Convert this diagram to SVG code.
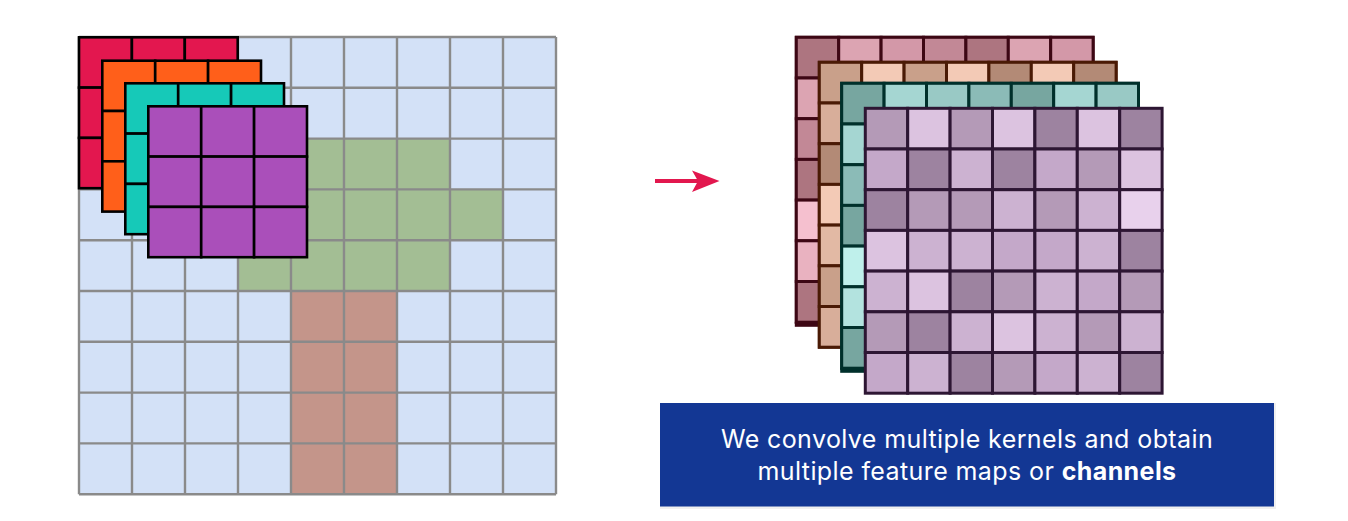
<svg xmlns="http://www.w3.org/2000/svg" width="1348" height="521" viewBox="0 0 1348 521">
<style>
.k rect{stroke:#000;stroke-width:2.6}
.kr rect{fill:#e3174f}.ko rect{fill:#ff5f1a}.kt rect{fill:#16c9b8}.kp rect{fill:#aa4fba}
.m rect{stroke-width:3}
.m1 rect{stroke:#3d0714}.m2 rect{stroke:#4a1a05}.m3 rect{stroke:#00302b}.m4 rect{stroke:#2d1633}
.A{fill:#9d83a0}.B{fill:#b49ab7}.C{fill:#c4a8c9}.D{fill:#ccb2d1}.E{fill:#dcc3e0}.F{fill:#e8d1ec}
.lbl{font-family:Inter,"Open Sans",sans-serif;font-size:25px;letter-spacing:0.4px;fill:#ffffff;text-anchor:middle}
</style>
<rect width="1348" height="521" fill="#ffffff"/>

<g id="input-grid">
<rect x="79" y="37" width="477" height="457.2" fill="#d3e1f7"/>
<path d="M238 138.6H450V189.4H503V240.2H450V291H238Z" fill="#a3be94"/>
<rect x="291" y="291" width="106" height="203.2" fill="#c4958a"/>
<path d="M79 37V494.2M132 37V494.2M185 37V494.2M238 37V494.2M291 37V494.2M344 37V494.2M397 37V494.2M450 37V494.2M503 37V494.2M556 37V494.2M79 37H556M79 87.8H556M79 138.6H556M79 189.4H556M79 240.2H556M79 291H556M79 341.8H556M79 392.6H556M79 443.4H556M79 494.2H556" stroke="#8a8a8a" stroke-width="2.4" fill="none"/>
</g>

<g id="kernel-red" class="k kr" transform="translate(79,37.3)">
<rect x="0" y="0" width="52.9" height="50.3"/><rect x="52.9" y="0" width="52.9" height="50.3"/><rect x="105.8" y="0" width="52.9" height="50.3"/>
<rect x="0" y="50.3" width="52.9" height="50.3"/><rect x="52.9" y="50.3" width="52.9" height="50.3"/><rect x="105.8" y="50.3" width="52.9" height="50.3"/>
<rect x="0" y="100.6" width="52.9" height="50.3"/><rect x="52.9" y="100.6" width="52.9" height="50.3"/><rect x="105.8" y="100.6" width="52.9" height="50.3"/>
</g>
<g id="kernel-orange" class="k ko" transform="translate(102.3,60.7)">
<rect x="0" y="0" width="52.9" height="50.3"/><rect x="52.9" y="0" width="52.9" height="50.3"/><rect x="105.8" y="0" width="52.9" height="50.3"/>
<rect x="0" y="50.3" width="52.9" height="50.3"/><rect x="52.9" y="50.3" width="52.9" height="50.3"/><rect x="105.8" y="50.3" width="52.9" height="50.3"/>
<rect x="0" y="100.6" width="52.9" height="50.3"/><rect x="52.9" y="100.6" width="52.9" height="50.3"/><rect x="105.8" y="100.6" width="52.9" height="50.3"/>
</g>
<g id="kernel-teal" class="k kt" transform="translate(125.3,83.3)">
<rect x="0" y="0" width="52.9" height="50.3"/><rect x="52.9" y="0" width="52.9" height="50.3"/><rect x="105.8" y="0" width="52.9" height="50.3"/>
<rect x="0" y="50.3" width="52.9" height="50.3"/><rect x="52.9" y="50.3" width="52.9" height="50.3"/><rect x="105.8" y="50.3" width="52.9" height="50.3"/>
<rect x="0" y="100.6" width="52.9" height="50.3"/><rect x="52.9" y="100.6" width="52.9" height="50.3"/><rect x="105.8" y="100.6" width="52.9" height="50.3"/>
</g>
<g id="kernel-purple" class="k kp" transform="translate(148.3,106.3)">
<rect x="0" y="0" width="52.9" height="50.3"/><rect x="52.9" y="0" width="52.9" height="50.3"/><rect x="105.8" y="0" width="52.9" height="50.3"/>
<rect x="0" y="50.3" width="52.9" height="50.3"/><rect x="52.9" y="50.3" width="52.9" height="50.3"/><rect x="105.8" y="50.3" width="52.9" height="50.3"/>
<rect x="0" y="100.6" width="52.9" height="50.3"/><rect x="52.9" y="100.6" width="52.9" height="50.3"/><rect x="105.8" y="100.6" width="52.9" height="50.3"/>
</g>

<g id="connectors">
<path d="M655 181H700" stroke="#e2174e" stroke-width="4" fill="none"/>
<polygon points="692,170.5 719.5,181 692,192 698,181" fill="#e2174e"/>
</g>

<g id="map-1" class="m m1" transform="translate(796.3,37.3)">
<rect x="0" y="0" width="296.8" height="284.9" fill="#c28896"/>
<rect x="0" y="286" width="23" height="2" fill="#f5c0cf" stroke="none"/>
<rect x="0" y="0" width="42.4" height="40.7" fill="#ad7580"/><rect x="42.4" y="0" width="42.4" height="40.7" fill="#dca4b2"/><rect x="84.8" y="0" width="42.4" height="40.7" fill="#d398a8"/><rect x="127.2" y="0" width="42.4" height="40.7" fill="#c28896"/><rect x="169.6" y="0" width="42.4" height="40.7" fill="#ad7580"/><rect x="212" y="0" width="42.4" height="40.7" fill="#dca4b2"/><rect x="254.4" y="0" width="42.4" height="40.7" fill="#d398a8"/>
<rect x="0" y="40.7" width="42.4" height="40.7" fill="#dca4b2"/><rect x="0" y="81.4" width="42.4" height="40.7" fill="#c28896"/><rect x="0" y="122.1" width="42.4" height="40.7" fill="#ad7580"/><rect x="0" y="162.8" width="42.4" height="40.7" fill="#f5c0cf"/><rect x="0" y="203.5" width="42.4" height="40.7" fill="#e9b2c0"/><rect x="0" y="244.2" width="42.4" height="40.7" fill="#ad7580"/>
</g>

<g id="map-2" class="m m2" transform="translate(819.3,62.3)">
<rect x="0" y="0" width="296.8" height="284.9" fill="#c9a08a"/>
<rect x="0" y="0" width="42.4" height="40.7" fill="#c9a08a"/><rect x="42.4" y="0" width="42.4" height="40.7" fill="#f3cab6"/><rect x="84.8" y="0" width="42.4" height="40.7" fill="#c9a08a"/><rect x="127.2" y="0" width="42.4" height="40.7" fill="#f3cab6"/><rect x="169.6" y="0" width="42.4" height="40.7" fill="#b38a76"/><rect x="212" y="0" width="42.4" height="40.7" fill="#f3cab6"/><rect x="254.4" y="0" width="42.4" height="40.7" fill="#b38a76"/>
<rect x="0" y="40.7" width="42.4" height="40.7" fill="#d8ae9a"/><rect x="0" y="81.4" width="42.4" height="40.7" fill="#b38a76"/><rect x="0" y="122.1" width="42.4" height="40.7" fill="#f3cab6"/><rect x="0" y="162.8" width="42.4" height="40.7" fill="#e2b9a4"/><rect x="0" y="203.5" width="42.4" height="40.7" fill="#c9a08a"/><rect x="0" y="244.2" width="42.4" height="40.7" fill="#d8ae9a"/>
</g>

<g id="map-3" class="m m3" transform="translate(841.7,83.3)">
<rect x="0" y="0" width="296.8" height="284.9" fill="#8bbbb7"/>
<rect x="0" y="286" width="23" height="2" fill="#bff0eb" stroke="none"/>
<rect x="0" y="0" width="42.4" height="40.7" fill="#77a6a0"/><rect x="42.4" y="0" width="42.4" height="40.7" fill="#a5d6d2"/><rect x="84.8" y="0" width="42.4" height="40.7" fill="#99c9c5"/><rect x="127.2" y="0" width="42.4" height="40.7" fill="#8bbbb7"/><rect x="169.6" y="0" width="42.4" height="40.7" fill="#77a6a0"/><rect x="212" y="0" width="42.4" height="40.7" fill="#a5d6d2"/><rect x="254.4" y="0" width="42.4" height="40.7" fill="#99c9c5"/>
<rect x="0" y="40.7" width="42.4" height="40.7" fill="#a5d6d2"/><rect x="0" y="81.4" width="42.4" height="40.7" fill="#8bbbb7"/><rect x="0" y="122.1" width="42.4" height="40.7" fill="#77a6a0"/><rect x="0" y="162.8" width="42.4" height="40.7" fill="#bff0eb"/><rect x="0" y="203.5" width="42.4" height="40.7" fill="#b3e3df"/><rect x="0" y="244.2" width="42.4" height="40.7" fill="#77a6a0"/>
</g>

<g id="map-4" class="m m4" transform="translate(865.3,108.3)">
<rect class="B" x="0" y="0" width="42.4" height="40.7"/><rect class="E" x="42.4" y="0" width="42.4" height="40.7"/><rect class="B" x="84.8" y="0" width="42.4" height="40.7"/><rect class="E" x="127.2" y="0" width="42.4" height="40.7"/><rect class="A" x="169.6" y="0" width="42.4" height="40.7"/><rect class="E" x="212" y="0" width="42.4" height="40.7"/><rect class="A" x="254.4" y="0" width="42.4" height="40.7"/>
<rect class="C" x="0" y="40.7" width="42.4" height="40.7"/><rect class="A" x="42.4" y="40.7" width="42.4" height="40.7"/><rect class="D" x="84.8" y="40.7" width="42.4" height="40.7"/><rect class="A" x="127.2" y="40.7" width="42.4" height="40.7"/><rect class="C" x="169.6" y="40.7" width="42.4" height="40.7"/><rect class="B" x="212" y="40.7" width="42.4" height="40.7"/><rect class="E" x="254.4" y="40.7" width="42.4" height="40.7"/>
<rect class="A" x="0" y="81.4" width="42.4" height="40.7"/><rect class="B" x="42.4" y="81.4" width="42.4" height="40.7"/><rect class="B" x="84.8" y="81.4" width="42.4" height="40.7"/><rect class="D" x="127.2" y="81.4" width="42.4" height="40.7"/><rect class="B" x="169.6" y="81.4" width="42.4" height="40.7"/><rect class="D" x="212" y="81.4" width="42.4" height="40.7"/><rect class="F" x="254.4" y="81.4" width="42.4" height="40.7"/>
<rect class="E" x="0" y="122.1" width="42.4" height="40.7"/><rect class="D" x="42.4" y="122.1" width="42.4" height="40.7"/><rect class="D" x="84.8" y="122.1" width="42.4" height="40.7"/><rect class="C" x="127.2" y="122.1" width="42.4" height="40.7"/><rect class="C" x="169.6" y="122.1" width="42.4" height="40.7"/><rect class="D" x="212" y="122.1" width="42.4" height="40.7"/><rect class="A" x="254.4" y="122.1" width="42.4" height="40.7"/>
<rect class="D" x="0" y="162.8" width="42.4" height="40.7"/><rect class="E" x="42.4" y="162.8" width="42.4" height="40.7"/><rect class="A" x="84.8" y="162.8" width="42.4" height="40.7"/><rect class="B" x="127.2" y="162.8" width="42.4" height="40.7"/><rect class="D" x="169.6" y="162.8" width="42.4" height="40.7"/><rect class="C" x="212" y="162.8" width="42.4" height="40.7"/><rect class="B" x="254.4" y="162.8" width="42.4" height="40.7"/>
<rect class="B" x="0" y="203.5" width="42.4" height="40.7"/><rect class="A" x="42.4" y="203.5" width="42.4" height="40.7"/><rect class="D" x="84.8" y="203.5" width="42.4" height="40.7"/><rect class="E" x="127.2" y="203.5" width="42.4" height="40.7"/><rect class="D" x="169.6" y="203.5" width="42.4" height="40.7"/><rect class="B" x="212" y="203.5" width="42.4" height="40.7"/><rect class="D" x="254.4" y="203.5" width="42.4" height="40.7"/>
<rect class="C" x="0" y="244.2" width="42.4" height="40.7"/><rect class="D" x="42.4" y="244.2" width="42.4" height="40.7"/><rect class="A" x="84.8" y="244.2" width="42.4" height="40.7"/><rect class="B" x="127.2" y="244.2" width="42.4" height="40.7"/><rect class="C" x="169.6" y="244.2" width="42.4" height="40.7"/><rect class="D" x="212" y="244.2" width="42.4" height="40.7"/><rect class="A" x="254.4" y="244.2" width="42.4" height="40.7"/>
</g>

<g id="caption">
<rect x="660" y="403" width="616" height="106" fill="#f0f0f0"/>
<rect x="660" y="403" width="614" height="103.5" fill="#133794"/>
<text class="lbl" x="967" y="448">We convolve multiple kernels and obtain</text>
<text class="lbl" x="967" y="480">multiple feature maps or <tspan font-weight="700">channels</tspan></text>
</g>
</svg>
